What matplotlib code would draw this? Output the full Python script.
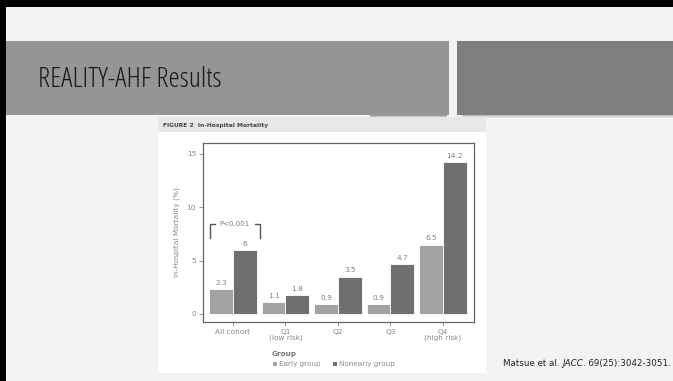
import matplotlib
matplotlib.use("Agg")
import matplotlib.pyplot as plt
from matplotlib.patches import Rectangle
import numpy as np

# In-hospital mortality by risk quartile
categories = ["All cohort", "Q1\n(low risk)", "Q2", "Q3", "Q4\n(high risk)"]
early_group = [2.3, 1.1, 0.9, 0.9, 6.5]
nonearly_group = [6.0, 1.8, 3.5, 4.7, 14.2]
early_labels = ["2.3", "1.1", "0.9", "0.9", "6.5"]
nonearly_labels = ["6", "1.8", "3.5", "4.7", "14.2"]
yticks = [0, 5, 10, 15]

W, H = 673, 381
fig = plt.figure(figsize=(W / 100, H / 100), dpi=100)
fig.patch.set_facecolor("#f3f3f3")


def px_rect(x0, y0, x1, y1, **kw):
    """Rectangle in pixel coordinates (origin top-left)."""
    r = Rectangle((x0 / W, 1 - y1 / H), (x1 - x0) / W, (y1 - y0) / H,
                  transform=fig.transFigure, zorder=-5, **kw)
    fig.add_artist(r)
    return r


def px_text(x, y, s, **kw):
    return fig.text(x / W, 1 - y / H, s, **kw)


# slide frame
px_rect(0, 0, W, 7, facecolor="black", edgecolor="none")
px_rect(0, 0, 6, H, facecolor="black", edgecolor="none")

# title band and side block
px_rect(6, 41, 449, 115, facecolor="#959595", edgecolor="none")
px_rect(457, 41, W, 115, facecolor="#7f7f7f", edgecolor="none")
# soft shadows under the band
for i, a in enumerate([0.35, 0.2, 0.1]):
    px_rect(370, 115 + i, 447, 116 + i, facecolor="black", alpha=a, edgecolor="none")
    px_rect(462, 115 + i, W, 116 + i, facecolor="black", alpha=a * 0.6, edgecolor="none")

px_text(38, 80, "REALITY-AHF Results", fontsize=20.5, color="#1a1a1a",
        family="Open Sans", va="center", ha="left", fontstretch="condensed")

# figure panel
px_rect(158, 117, 486, 373, facecolor="white", edgecolor="none")
px_rect(158, 117, 486, 132, facecolor="#e8e8e8", edgecolor="none")
px_text(163, 125, "FIGURE 2  In-Hospital Mortality", fontsize=4.3, color="#444444",
        weight="bold", va="center", ha="left")

ax = fig.add_axes([203 / W, 1 - 322 / H, 271 / W, 179 / H], zorder=5)
ax.set_facecolor("white")
x = np.arange(len(categories))
bw = 0.45
ax.bar(x - bw / 2, early_group, bw, color="#a2a2a2", edgecolor="white", linewidth=0.6)
ax.bar(x + bw / 2, nonearly_group, bw, color="#6f6f6f", edgecolor="white", linewidth=0.6)

for xi, v, s in zip(x, early_group, early_labels):
    ax.text(xi - bw / 2, v + 0.3, s, ha="center", va="bottom", fontsize=5.3, color="#808080")
for xi, v, s in zip(x, nonearly_group, nonearly_labels):
    ax.text(xi + bw / 2, v + 0.3, s, ha="center", va="bottom", fontsize=5.3, color="#808080")

# significance bracket: two corner brackets with the p-value between them
bx0, bx1, arm, ytop, ybot = -0.44, 0.51, 0.09, 8.4, 7.1
ax.plot([bx0 + arm, bx0, bx0], [ytop, ytop, ybot], color="#555555", lw=1.0)
ax.plot([bx1 - arm, bx1, bx1], [ytop, ytop, ybot], color="#555555", lw=1.0)
ax.text((bx0 + bx1) / 2, ytop, "P<0.001", ha="center", va="center",
        fontsize=5, color="#808080")

ax.set_xlim(-0.57, 4.59)
ax.set_ylim(-0.75, 16.0)
ax.set_yticks(yticks)
ax.set_yticklabels([str(t) for t in yticks])
ax.set_xticks(x)
ax.set_xticklabels(categories, linespacing=0.95)
ax.tick_params(axis="both", labelsize=5.3, colors="#888888", length=3, width=0.6,
               direction="out", pad=2)
ax.set_ylabel("In-Hospital Mortality (%)", fontsize=5.3, color="#888888", labelpad=5)
for sp in ax.spines.values():
    sp.set_color("#666666")
    sp.set_linewidth(0.9)

# legend beneath the chart
px_text(272, 354, "Group", fontsize=5.2, color="#777777", weight="bold", va="center", ha="left")
px_rect(273, 362, 277, 366, facecolor="#a2a2a2", edgecolor="none")
px_text(279, 364, "Early group", fontsize=5.2, color="#888888", va="center", ha="left")
px_rect(333, 362, 337, 366, facecolor="#6f6f6f", edgecolor="none")
px_text(339, 364, "Nonearly group", fontsize=5.2, color="#888888", va="center", ha="left")

# citation
cy = 1 - 366 / H
t = fig.text(503 / W, cy, "Matsue et al. ", fontsize=6.3, color="#222222",
             va="baseline", ha="left")
fig.canvas.draw()
r = fig.canvas.get_renderer()
bb = t.get_window_extent(r)
t2 = fig.text(bb.x1 / W, cy, "JACC", fontsize=6.3, color="#222222",
              style="italic", va="baseline", ha="left")
bb2 = t2.get_window_extent(r)
fig.text(bb2.x1 / W, cy, ". 69(25):3042-3051.", fontsize=6.3, color="#222222",
         va="baseline", ha="left")

fig.savefig("out.png", dpi=100)
